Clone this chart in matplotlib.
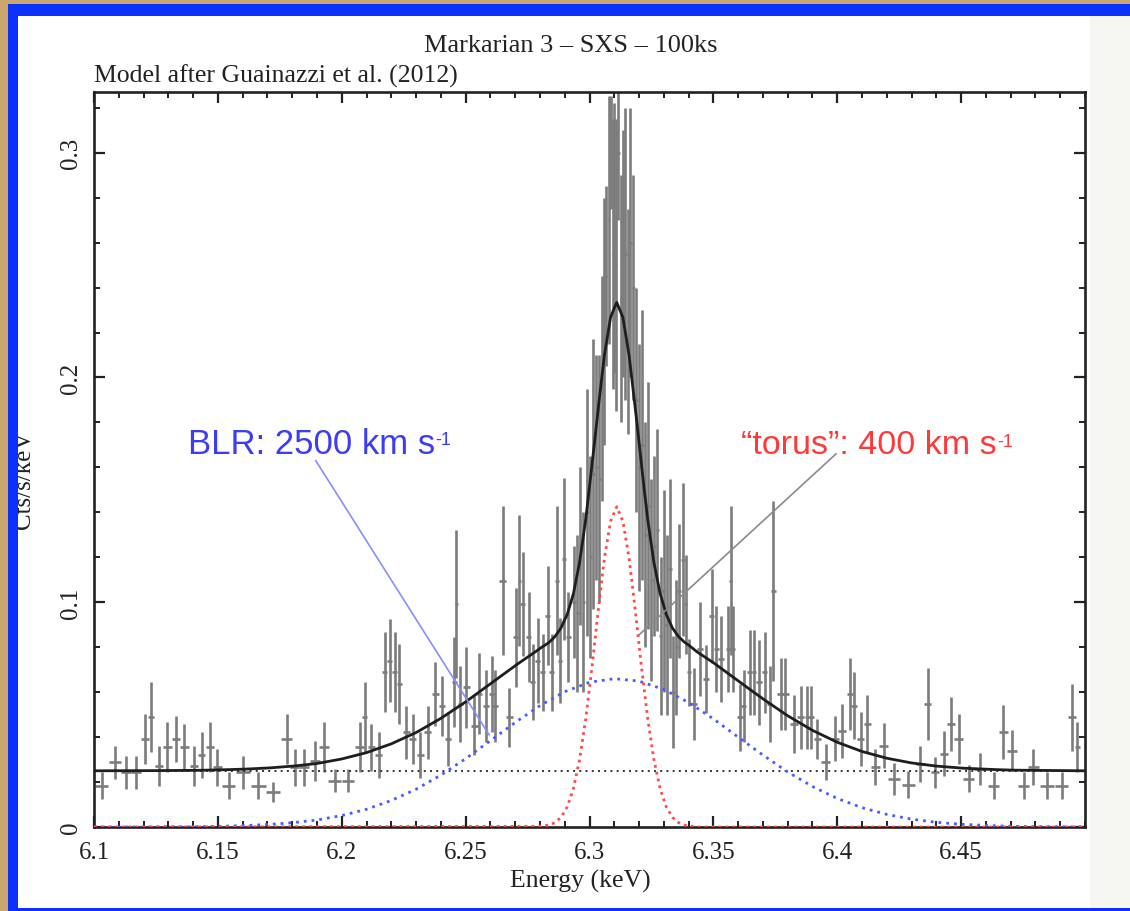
import numpy as np
import matplotlib
matplotlib.use('Agg')
import matplotlib.pyplot as plt
from matplotlib.patches import Rectangle
from matplotlib.ticker import MultipleLocator

plt.rcParams['font.family'] = ['Liberation Serif', 'DejaVu Serif']

# ---------------- data ----------------
energy = [
    6.1031, 6.1085, 6.1128, 6.1169, 6.1206, 6.1230, 6.1262, 6.1296, 6.1330, 6.1364,
    6.1403, 6.1434, 6.1467, 6.1498, 6.1544, 6.1602, 6.1662, 6.1723, 6.1777, 6.1810,
    6.1846, 6.1891, 6.1927, 6.1971, 6.2025, 6.2072, 6.2092, 6.2119, 6.2149, 6.2173,
    6.2193, 6.2213, 6.2233, 6.2260, 6.2287, 6.2317, 6.2347, 6.2378, 6.2404, 6.2428,
    6.2455, 6.2462, 6.2479, 6.2502, 6.2535, 6.2556, 6.2583, 6.2605, 6.2619, 6.2650,
    6.2676, 6.2703, 6.2717, 6.2730, 6.2754, 6.2770, 6.2791, 6.2811, 6.2831, 6.2848,
    6.2869, 6.2881, 6.2898, 6.2915, 6.2938,
    6.2950, 6.2962, 6.2975, 6.2990, 6.3003, 6.3015, 6.3027, 6.3040, 6.3050, 6.3060,
    6.3068, 6.3077, 6.3085, 6.3093, 6.3100, 6.3108, 6.3117, 6.3126, 6.3135, 6.3145,
    6.3155, 6.3165, 6.3176, 6.3188, 6.3200, 6.3212, 6.3225, 6.3238, 6.3250, 6.3262,
    6.3274, 6.3287, 6.3300, 6.3312, 6.3325, 6.3338, 6.3350, 6.3362,
    6.3378, 6.3389, 6.3402, 6.3422, 6.3445, 6.3469, 6.3493, 6.3512, 6.3532, 6.3560,
    6.3570, 6.3580, 6.3607, 6.3623, 6.3646, 6.3664, 6.3684, 6.3707, 6.3727, 6.3742,
    6.3771, 6.3791, 6.3825, 6.3852, 6.3879, 6.3896, 6.3919, 6.3953, 6.3990, 6.4020,
    6.4050, 6.4067, 6.4094, 6.4121, 6.4154, 6.4188, 6.4228, 6.4287, 6.4336, 6.4365,
    6.4393, 6.4430, 6.4460, 6.4490, 6.4530, 6.4577, 6.4631, 6.4671, 6.4705, 6.4752,
    6.4792, 6.4846, 6.4906, 6.4947, 6.4969,
]
rate = [
    0.0184, 0.0288, 0.0243, 0.0243, 0.0392, 0.0488, 0.0273, 0.0355, 0.0392, 0.0355,
    0.0273, 0.0320, 0.0355, 0.0266, 0.0184, 0.0243, 0.0184, 0.0157, 0.0392, 0.0266,
    0.0266, 0.0295, 0.0355, 0.0206, 0.0206, 0.0355, 0.0488, 0.0355, 0.0320, 0.0691,
    0.0740, 0.0691, 0.0636, 0.0421, 0.0392, 0.0320, 0.0421, 0.0592, 0.0540, 0.0392,
    0.0644, 0.0992, 0.0547, 0.0622, 0.0451, 0.0592, 0.0540, 0.0592, 0.0540, 0.1096,
    0.0488, 0.0844, 0.1096, 0.0992, 0.0844, 0.0644, 0.0740, 0.0688, 0.0940, 0.0688,
    0.1096, 0.0740, 0.1193, 0.0844, 0.1000,
    0.095, 0.125, 0.100, 0.140, 0.120, 0.157, 0.160, 0.155, 0.195, 0.225,
    0.245, 0.270, 0.300, 0.255, 0.262, 0.250, 0.300, 0.235, 0.255, 0.255,
    0.225, 0.260, 0.240, 0.190, 0.160, 0.170, 0.130, 0.143, 0.110, 0.125,
    0.132, 0.085, 0.105, 0.090, 0.115, 0.060, 0.080, 0.105,
    0.1190, 0.0990, 0.0688, 0.0547, 0.0792, 0.0659, 0.0940, 0.0792, 0.0748, 0.0792,
    0.1096, 0.0792, 0.0488, 0.0540, 0.0688, 0.0688, 0.0644, 0.0688, 0.0547, 0.1050,
    0.0592, 0.0592, 0.0458, 0.0488, 0.0488, 0.0488, 0.0392, 0.0288, 0.0392, 0.0429,
    0.0592, 0.0540, 0.0392, 0.0458, 0.0266, 0.0362, 0.0214, 0.0188, 0.0280, 0.0547,
    0.0243, 0.0325, 0.0458, 0.0392, 0.0214, 0.0258, 0.0184, 0.0421, 0.0340, 0.0184,
    0.0266, 0.0184, 0.0184, 0.0488, 0.0355,
]
rate_err = [
    0.0059, 0.0074, 0.0074, 0.0074, 0.0111, 0.0156, 0.0089, 0.0111, 0.0104, 0.0104,
    0.0089, 0.0104, 0.0111, 0.0082, 0.0059, 0.0074, 0.0059, 0.0045, 0.0111, 0.0082,
    0.0082, 0.0089, 0.0111, 0.0052, 0.0052, 0.0111, 0.0156, 0.0104, 0.0104, 0.0178,
    0.0185, 0.0178, 0.0178, 0.0119, 0.0111, 0.0104, 0.0119, 0.0141, 0.0134, 0.0119,
    0.020, 0.033, 0.017, 0.018, 0.013, 0.018, 0.016, 0.017, 0.016, 0.033,
    0.013, 0.022, 0.029, 0.023, 0.020, 0.017, 0.019, 0.017, 0.022, 0.017,
    0.033, 0.019, 0.036, 0.020, 0.025,
    0.035, 0.035, 0.040, 0.055, 0.045, 0.060, 0.050, 0.055, 0.050, 0.055,
    0.040, 0.055, 0.025, 0.060, 0.060, 0.065, 0.030, 0.055, 0.055, 0.065,
    0.050, 0.060, 0.050, 0.050, 0.055, 0.060, 0.050, 0.055, 0.045, 0.040,
    0.045, 0.035, 0.045, 0.040, 0.040, 0.025, 0.030, 0.030,
    0.034, 0.022, 0.015, 0.016, 0.021, 0.015, 0.021, 0.019, 0.019, 0.019,
    0.033, 0.019, 0.015, 0.016, 0.019, 0.019, 0.019, 0.018, 0.017, 0.040,
    0.016, 0.016, 0.013, 0.014, 0.014, 0.014, 0.009, 0.008, 0.010, 0.012,
    0.016, 0.015, 0.012, 0.013, 0.008, 0.010, 0.007, 0.006, 0.008, 0.016,
    0.007, 0.010, 0.012, 0.011, 0.006, 0.007, 0.006, 0.012, 0.009, 0.006,
    0.008, 0.006, 0.006, 0.015, 0.011,
]

# model components
continuum_level = 0.025
blr_energy = [6.10, 6.11, 6.12, 6.13, 6.14, 6.15, 6.16, 6.17, 6.18, 6.19, 6.20,
              6.21, 6.22, 6.23, 6.24, 6.25, 6.26, 6.27, 6.28, 6.29, 6.30, 6.31,
              6.32, 6.33, 6.34, 6.35, 6.36, 6.37, 6.38, 6.39, 6.40, 6.41, 6.42,
              6.43, 6.44, 6.45, 6.46, 6.47, 6.48, 6.49, 6.50]
blr_model = [0.0, 0.0, 0.0, 0.0001, 0.0001, 0.0003, 0.0006, 0.0011, 0.0019, 0.0031,
             0.0051, 0.0079, 0.0118, 0.0168, 0.0231, 0.0304, 0.0384, 0.0465, 0.0540,
             0.0602, 0.0644, 0.0660, 0.0649, 0.0612, 0.0554, 0.0481, 0.0400, 0.0320,
             0.0245, 0.0180, 0.0127, 0.0086, 0.0056, 0.0035, 0.0021, 0.0012, 0.0007,
             0.0003, 0.0002, 0.0001, 0.0]
torus_energy = [6.100, 6.2785, 6.2835, 6.2860, 6.2885, 6.2910, 6.2935, 6.2960, 6.2985,
                6.3010, 6.3035, 6.3060, 6.3085, 6.3110, 6.3135, 6.3160, 6.3185, 6.3210,
                6.3235, 6.3260, 6.3285, 6.3310, 6.3335, 6.3360, 6.3385, 6.3435, 6.500]
torus_model = [0.0, 0.0003, 0.0008, 0.0019, 0.0043, 0.0089, 0.0171, 0.0300, 0.0482,
               0.0711, 0.0962, 0.1194, 0.1360, 0.1425, 0.1360, 0.1194, 0.0962, 0.0711,
               0.0482, 0.0300, 0.0171, 0.0089, 0.0043, 0.0019, 0.0008, 0.0, 0.0]

xtick_values = [6.1, 6.15, 6.2, 6.25, 6.3, 6.35, 6.4, 6.45]
xtick_labels = ['6.1', '6.15', '6.2', '6.25', '6.3', '6.35', '6.4', '6.45']
ytick_values = [0, 0.1, 0.2, 0.3]
ytick_labels = ['0', '0.1', '0.2', '0.3']

blr_pointer = ([6.1895, 6.2595], [0.163, 0.041])
torus_pointer = ([6.3995, 6.3200], [0.166, 0.0855])

# ---------------- figure ----------------
W, H = 1130, 912
fig = plt.figure(figsize=(W / 100, H / 100), dpi=100)
fig.patch.set_facecolor('#c9a66e')


def px_rect(x0, y0, x1, y1, color, z):
    r = Rectangle((x0 / W, 1 - y1 / H), (x1 - x0) / W, (y1 - y0) / H,
                  transform=fig.transFigure, facecolor=color, edgecolor='none',
                  zorder=z)
    fig.add_artist(r)


px_rect(8, 5, W + 5, H + 5, '#0b30fb', -10)       # blue frame
px_rect(18, 17, W + 5, 909, 'white', -9)          # white slide
px_rect(1090, 17, W + 5, 909, '#f6f6f3', -8)      # light right strip

# y label, partially hidden under the frame
fig.text(35 / W, 1 - 480 / H, 'Cts/s/keV', rotation=90, ha='right', va='center',
         fontsize=18, color='#222222', zorder=-7)
px_rect(8, 5, 18, H + 5, '#0b30fb', -6)
px_rect(0, 0, 8, H, '#c9a66e', -6)

ax = fig.add_axes([94 / W, 1 - 828 / H, (1085 - 94) / W, (828 - 93) / H])
ax.set_facecolor('white')

E = np.array(energy)
xerr = 0.5 * np.gradient(E)
ax.errorbar(E, rate, yerr=rate_err, xerr=xerr, fmt='none', ecolor='#7c7c7c',
            elinewidth=1.9, capsize=0, zorder=2)

# model
ax.axhline(continuum_level, color='#333333', lw=1.4, ls=(0, (1, 2.2)), zorder=3)
ax.plot(blr_energy, blr_model, color='#4a5cff', lw=2.0, ls=(0, (1, 1.8)), zorder=3)
ax.plot(torus_energy, torus_model, color='#ff4a4a', lw=2.0, ls=(0, (1, 1.5)), zorder=3)
grid = np.unique(np.concatenate([np.linspace(6.1, 6.5, 401), torus_energy]))
total = (continuum_level + np.interp(grid, blr_energy, blr_model)
         + np.interp(grid, torus_energy, torus_model))
ax.plot(grid, total, color='#1e1e1e', lw=2.0, zorder=4)

# annotations
ax.plot(*blr_pointer, color='#8a8cff', lw=1.2, zorder=5)
ax.plot(*torus_pointer, color='#8a8a8a', lw=1.2, zorder=5)
sans = ['Liberation Sans', 'DejaVu Sans']
t1 = ax.text(6.1379, 0.1665, 'BLR: 2500 km s', color='#3c3cf5', fontsize=25,
             family=sans, va='baseline', ha='left', zorder=6)
ax.annotate('-1', xy=(1, 1), xycoords=t1, xytext=(0.5, -3), textcoords='offset points',
            ha='left', va='top', fontsize=13, color='#3c3cf5', family=sans, zorder=6)
t2 = ax.text(6.3611, 0.1665, '\u201ctorus\u201d: 400 km s', color='#ff3838',
             fontsize=24.5, family=sans, va='baseline', ha='left', zorder=6)
ax.annotate('-1', xy=(1, 1), xycoords=t2, xytext=(0.5, -3), textcoords='offset points',
            ha='left', va='top', fontsize=13, color='#ff3838', family=sans, zorder=6)

ax.set_xlim(6.1, 6.5)
ax.set_ylim(0, 0.327)
ax.set_xticks(xtick_values, xtick_labels)
ax.set_yticks(ytick_values, ytick_labels)
ax.xaxis.set_minor_locator(MultipleLocator(0.01))
ax.yaxis.set_minor_locator(MultipleLocator(0.02))
ax.tick_params(which='both', direction='in', top=True, right=True, colors='#222222')
ax.tick_params(which='major', length=8, width=1.6, labelsize=18)
ax.tick_params(which='minor', length=4, width=1.4)
ax.tick_params(axis='x', pad=10)
ax.tick_params(axis='y', pad=9, labelrotation=90)
for lab in ax.get_yticklabels():
    lab.set_va('center')
for sp in ax.spines.values():
    sp.set_linewidth(1.9)
    sp.set_color('#222222')

fig.text(0.505, 1 - 52 / H, 'Markarian 3 \u2013 SXS \u2013 100ks', ha='center',
         va='baseline', fontsize=19, color='#222222')
fig.text(94 / W, 1 - 83 / H, 'Model after Guainazzi et al. (2012)', ha='left',
         va='baseline', fontsize=18.5, color='#222222')
fig.text(580 / W, 1 - 888 / H, 'Energy (keV)', ha='center', va='baseline',
         fontsize=18.5, color='#222222')

fig.savefig('out.png', dpi=100)
